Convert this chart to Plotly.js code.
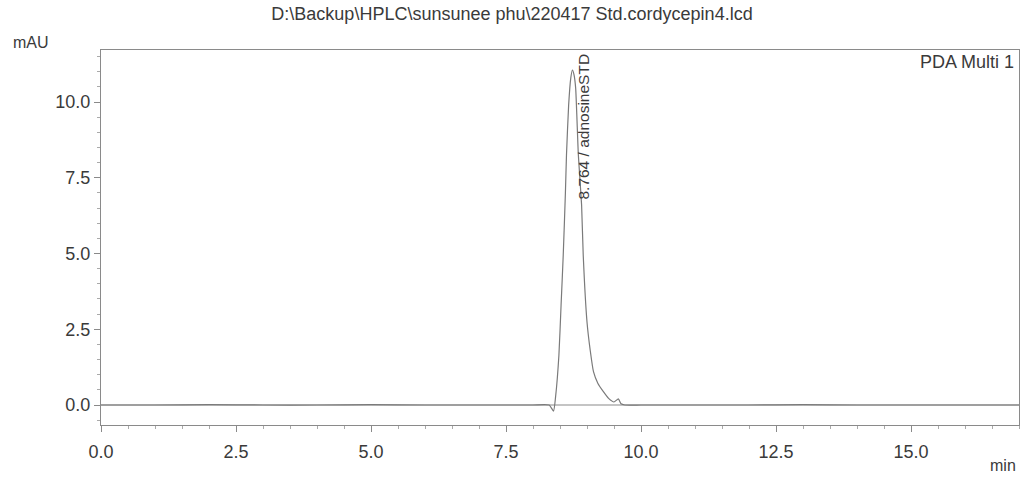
<!DOCTYPE html>
<html>
<head>
<meta charset="utf-8">
<script src="https://cdn.plot.ly/plotly-3.0.1.min.js"></script>
<style>html,body{margin:0;padding:0;background:#fff;}#chart{width:1024px;height:480px;}</style>
</head>
<body>
<div id="chart"></div>
<script>
// Retention time (min) and absorbance (mAU)
const timeMin = [0.0, 1.0, 2.0, 3.0, 4.0, 5.0, 6.0, 7.0, 8.0, 8.3, 8.38, 8.42, 8.48, 8.52, 8.56, 8.6, 8.62, 8.66, 8.7, 8.73, 8.76, 8.79, 8.84, 8.9, 8.93, 9.0, 9.06, 9.12, 9.2, 9.3, 9.4, 9.5, 9.58, 9.63, 9.7, 10.0, 11.0, 12.0, 13.0, 14.0, 15.0, 16.0, 17.0];
const signalMAU = [0.0, 0.0, 0.01, 0.0, 0.0, 0.01, 0.0, 0.0, 0.0, 0.0, -0.2, 0.3, 1.65, 3.3, 4.95, 7.0, 8.25, 9.9, 10.8, 11.06, 10.9, 10.46, 8.25, 6.6, 4.95, 2.74, 1.8, 1.1, 0.72, 0.45, 0.22, 0.1, 0.2, 0.04, 0.0, 0.0, 0.0, 0.0, 0.01, 0.0, 0.0, 0.0, 0.0];
const xTickVals = [0.0, 2.5, 5.0, 7.5, 10.0, 12.5, 15.0];
const xTickText = ["0.0", "2.5", "5.0", "7.5", "10.0", "12.5", "15.0"];
const yTickVals = [0.0, 2.5, 5.0, 7.5, 10.0];
const yTickText = ["0.0", "2.5", "5.0", "7.5", "10.0"];
const peakTime = [8.93];
const peakLabelY = [9.2];
const peakLabel = ["8.764 / adnosineSTD"];
const chartTitle = "D:\\Backup\\HPLC\\sunsunee phu\\220417 Std.cordycepin4.lcd";

const txt = '#3a3a3a';
const lineCol = '#8a8a8a';

const trace = {
  x: timeMin, y: signalMAU, type: 'scatter', mode: 'lines',
  line: {color: '#7a7a7a', width: 1.2, shape: 'spline', smoothing: 0.5},
  hoverinfo: 'skip', showlegend: false
};

const layout = {
  width: 1024, height: 480,
  margin: {l: 101, r: 5, t: 50, b: 55},
  paper_bgcolor: '#ffffff', plot_bgcolor: '#ffffff',
  font: {family: 'Liberation Sans, Arial, sans-serif', color: txt, size: 16},
  title: {text: chartTitle, x: 0.5, xanchor: 'center', y: 0.972, yanchor: 'middle', font: {size: 18, color: txt}},
  xaxis: {
    range: [0, 17], tickvals: xTickVals, ticktext: xTickText,
    ticks: 'outside', ticklen: 6, tickcolor: lineCol, tickwidth: 1, ticklabelstandoff: 4,
    minor: {dtick: 0.5, ticks: 'outside', ticklen: 3, tickcolor: '#aaaaaa'},
    showline: true, linecolor: lineCol, linewidth: 1, mirror: true,
    showgrid: false, zeroline: false, tickfont: {size: 18, color: txt}
  },
  yaxis: {
    range: [-0.66, 11.72], tickvals: yTickVals, ticktext: yTickText,
    ticks: 'outside', ticklen: 6, tickcolor: lineCol, tickwidth: 1,
    minor: {dtick: 0.5, ticks: 'outside', ticklen: 3, tickcolor: '#aaaaaa'},
    showline: true, linecolor: lineCol, linewidth: 1, mirror: true,
    showgrid: false, zeroline: false, tickfont: {size: 18, color: txt}
  },
  shapes: [
    {type: 'line', xref: 'paper', x0: 0, x1: 1, yref: 'y', y0: 0, y1: 0, line: {color: '#8a8a8a', width: 1.2}, layer: 'below'}
  ],
  annotations: [
    {text: 'mAU', xref: 'paper', yref: 'paper', x: -0.098, y: 1.021, xanchor: 'left', yanchor: 'middle', showarrow: false, font: {size: 16, color: txt}},
    {text: 'min', xref: 'paper', yref: 'paper', x: 0.999, y: -0.107, xanchor: 'right', yanchor: 'middle', showarrow: false, font: {size: 16, color: txt}},
    {text: 'PDA Multi 1', xref: 'paper', yref: 'paper', x: 0.997, y: 0.969, xanchor: 'right', yanchor: 'middle', showarrow: false, font: {size: 18, color: txt}},
    {text: peakLabel[0], x: peakTime[0], y: peakLabelY[0], xref: 'x', yref: 'y', textangle: -90, showarrow: false, font: {size: 15.5, color: txt}}
  ]
};

Plotly.newPlot('chart', [trace], layout, {staticPlot: true, displayModeBar: false});
</script>
</body>
</html>
